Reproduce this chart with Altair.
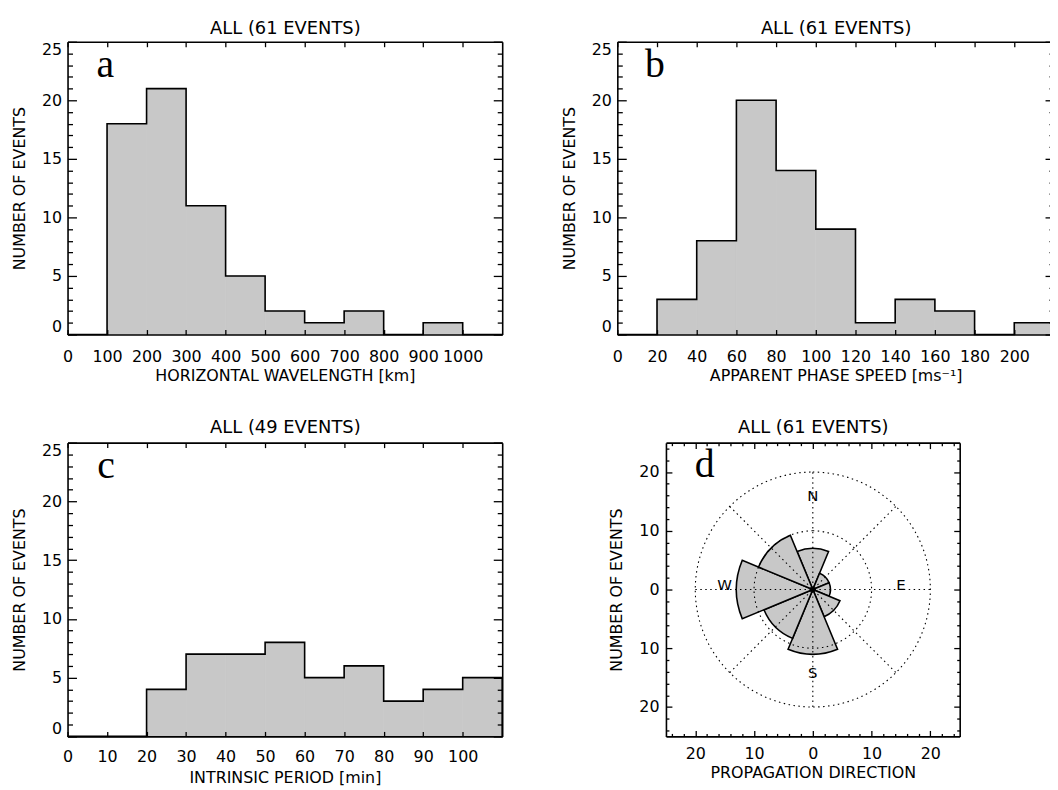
import altair as alt
import pandas as pd

# ---------------- data ----------------
WL_START = [0, 100, 200, 300, 400, 500, 600, 700, 800, 900, 1000]
WL_COUNT = [0, 18, 21, 11, 5, 2, 1, 2, 0, 1, 0]
WL_BIN = 100
WL_TICKS = [0, 100, 200, 300, 400, 500, 600, 700, 800, 900, 1000]

SP_START = [0, 20, 40, 60, 80, 100, 120, 140, 160, 180, 200]
SP_COUNT = [0, 3, 8, 20, 14, 9, 1, 3, 2, 0, 1]
SP_BIN = 20
SP_TICKS = [0, 20, 40, 60, 80, 100, 120, 140, 160, 180, 200]

PER_START = [0, 10, 20, 30, 40, 50, 60, 70, 80, 90, 100]
PER_COUNT = [0, 0, 4, 7, 7, 8, 5, 6, 3, 4, 5]
PER_BIN = 10
PER_TICKS = [0, 10, 20, 30, 40, 50, 60, 70, 80, 90, 100]

DIR_AZIMUTH = [0, 45, 90, 135, 180, 225, 270, 315]
DIR_COUNT = [7, 3, 3, 5, 11, 9, 13, 10]
DIR_HALF = 22.5

COMPASS = ["N", "E", "S", "W"]
COMPASS_X = [0, 15, 0, -15]
COMPASS_Y = [15, 0, -15, 0]
RING_R = [10, 20]
SPOKE_X1 = [-20, 0, -14.14, -14.14]
SPOKE_Y1 = [0, -20, -14.14, 14.14]
SPOKE_X2 = [20, 0, 14.14, 14.14]
SPOKE_Y2 = [0, 20, 14.14, -14.14]

COUNT_MAJOR = [0, 5, 10, 15, 20, 25]
COUNT_MINOR = [v for v in range(0, 26) if v % 5 != 0]
D_MAJOR = [-20, -10, 0, 10, 20]
D_MINOR = [v for v in range(-24, 25, 2) if v % 10 != 0]

# ---------------- layout / style ----------------
FONT = "DejaVu Sans"
GREY = "#c8c8c8"
VW, VH = 1050, 782          # whole drawing area (page minus 8px margin)


def off(orient, pos):
    """offset that places an axis of the given orient at pixel `pos`."""
    if orient == "left":
        return -pos
    if orient == "right":
        return pos - VW
    if orient == "top":
        return -pos
    return pos - VH


def tick_axis(orient, pos, values, size, domain=False):
    return alt.Axis(orient=orient, offset=off(orient, pos), values=values,
                    labels=False, ticks=True, tickSize=size, tickColor="black",
                    tickWidth=1.3, domain=domain, domainColor="black",
                    domainWidth=1.6, grid=False, title=None, zindex=1)


def xlabel_axis(pos, values, title, lpad, title_y, expr=None):
    kw = dict(orient="bottom", offset=off("bottom", pos), values=values,
              ticks=False, tickSize=0, domain=True, domainColor="black",
              domainWidth=1.6, grid=False, title=title, labelPadding=lpad,
              titleY=title_y, titleBaseline="alphabetic", labelFlush=False,
              labelOverlap=False, labelBound=False, format="d", zindex=1)
    if expr is not None:
        kw["labelExpr"] = expr
    return alt.Axis(**kw)


def ylabel_axis(pos, values, lpad, flush, expr=None):
    kw = dict(orient="left", offset=off("left", pos), values=values,
              ticks=False, tickSize=0, domain=True, domainColor="black",
              domainWidth=1.6, grid=False, title="NUMBER OF EVENTS",
              labelPadding=lpad, titlePadding=14, labelFlush=flush,
              labelOverlap=False, labelBound=False, format="d", zindex=1)
    if expr is not None:
        kw["labelExpr"] = expr
    return alt.Axis(**kw)


def title_axis(pos, text, ty):
    return alt.Axis(orient="top", offset=off("top", pos), labels=False,
                    ticks=False, domain=False, grid=False, title=text,
                    titleY=ty, titleBaseline="alphabetic", titleFontSize=18,
                    values=[0])


def ghost(xscale, yscale, xaxis, yaxis):
    df = pd.DataFrame({"gx": [0], "gy": [0]})
    return alt.Chart(df).mark_point(opacity=0).encode(
        x=alt.X("gx:Q", scale=xscale, axis=xaxis),
        y=alt.Y("gy:Q", scale=yscale, axis=yaxis),
    )


def letter_layer(xs, ys, lx, ly, t):
    df = pd.DataFrame({"lx": [lx], "ly": [ly], "t": [t]})
    return alt.Chart(df).mark_text(
        align="left", baseline="alphabetic", font="Liberation Serif",
        fontSize=40, color="black"
    ).encode(
        x=alt.X("lx:Q", scale=xs, axis=None),
        y=alt.Y("ly:Q", scale=ys, axis=None),
        text="t:N",
    )


def hist_panel(starts, counts, binw, xmax, xr, yr, xticks, xtitle, ptitle,
               letter, letter_x, lpad, title_y, ptitle_y):
    x0, x1 = xr
    ybot, ytop = yr
    xs = alt.Scale(domain=[0, xmax], range=[x0, x1], nice=False, zero=False)
    ys = alt.Scale(domain=[0, 25], range=[ybot, ytop], nice=False, zero=False)
    bars_df = pd.DataFrame({"start": starts,
                            "end": [s + binw for s in starts],
                            "count": counts,
                            "base": [0] * len(starts)})
    step_df = pd.DataFrame({"edge": starts + [starts[-1] + binw],
                            "count": counts + [0]})
    bars = alt.Chart(bars_df).mark_bar(
        color=GREY, stroke=GREY, strokeWidth=0.7
    ).encode(
        x=alt.X("start:Q", scale=xs,
                axis=xlabel_axis(ybot, xticks, xtitle, lpad, title_y)),
        x2="end:Q",
        y=alt.Y("count:Q", scale=ys, axis=ylabel_axis(x0, COUNT_MAJOR, 6, True)),
        y2="base:Q",
    )
    step = alt.Chart(step_df).mark_line(
        interpolate="step-after", color="black", strokeWidth=1.6
    ).encode(
        x=alt.X("edge:Q", scale=xs, axis=tick_axis("top", ybot, xticks, 5)),
        y=alt.Y("count:Q", scale=ys, axis=tick_axis("right", x0, COUNT_MAJOR, 9)),
    )
    g1 = ghost(xs, ys, tick_axis("bottom", ytop, xticks, 5, domain=True),
               tick_axis("left", x1, COUNT_MAJOR, 9, domain=True))
    g2 = ghost(xs, ys, title_axis(ytop, ptitle, ptitle_y),
               tick_axis("right", x0, COUNT_MINOR, 5))
    g3 = ghost(xs, ys, None, tick_axis("left", x1, COUNT_MINOR, 5))
    let = letter_layer(xs, ys, letter_x, 22, letter)
    return alt.layer(bars, step, g1, g2, g3, let).resolve_axis(
        x="independent", y="independent")


a = hist_panel(WL_START, WL_COUNT, WL_BIN, 1100, (60, 498), (326, 31), WL_TICKS,
               "HORIZONTAL WAVELENGTH [km]", "ALL (61 EVENTS)", "a", 73, 14.5, 46, -8.3)
b = hist_panel(SP_START, SP_COUNT, SP_BIN, 220, (614, 1054), (326, 31), SP_TICKS,
               "APPARENT PHASE SPEED [ms\u207b\u00b9]", "ALL (61 EVENTS)", "b", 14, 14.5, 46, -8.3)
c = hist_panel(PER_START, PER_COUNT, PER_BIN, 110, (60, 498), (731, 435), PER_TICKS,
               "INTRINSIC PERIOD [min]", "ALL (49 EVENTS)", "c", 7.5, 12, 46, -10)

# ---------------- rose panel ----------------
DX0, DX1 = 663, 959
DYB, DYT = 731, 435
dxs = alt.Scale(domain=[-25, 25], range=[DX0, DX1], nice=False, zero=False)
dys = alt.Scale(domain=[-25, 25], range=[DYB, DYT], nice=False, zero=False)
th_scale = alt.Scale(domain=[0, 360], range=[0, 6.283185307179586])
r_scale = alt.Scale(type="linear", domain=[0, 25], range=[0, (DX1 - DX0) / 2], zero=True)

sec_df = pd.DataFrame({
    "cx": [0] * len(DIR_AZIMUTH),
    "cy": [0] * len(DIR_AZIMUTH),
    "t0": [az - DIR_HALF for az in DIR_AZIMUTH],
    "t1": [az + DIR_HALF for az in DIR_AZIMUTH],
    "r": DIR_COUNT,
})
sectors = alt.Chart(sec_df).mark_arc(
    fill=GREY, stroke="black", strokeWidth=1.6
).encode(
    x=alt.X("cx:Q", scale=dxs, axis=None),
    y=alt.Y("cy:Q", scale=dys, axis=None),
    theta=alt.Theta("t0:Q", scale=th_scale, stack=False),
    theta2="t1:Q",
    radius=alt.Radius("r:Q", scale=r_scale),
)
ring_df = pd.DataFrame({"cx": [0] * len(RING_R), "cy": [0] * len(RING_R),
                        "t0": [0] * len(RING_R), "t1": [360] * len(RING_R),
                        "r": RING_R})
rings = alt.Chart(ring_df).mark_arc(
    fillOpacity=0, stroke="black", strokeWidth=1.1, strokeDash=[1.5, 3.5]
).encode(
    x=alt.X("cx:Q", scale=dxs, axis=None),
    y=alt.Y("cy:Q", scale=dys, axis=None),
    theta=alt.Theta("t0:Q", scale=th_scale, stack=False),
    theta2="t1:Q",
    radius=alt.Radius("r:Q", scale=r_scale),
)
spoke_df = pd.DataFrame({"x1": SPOKE_X1, "y1": SPOKE_Y1, "x2": SPOKE_X2, "y2": SPOKE_Y2})
spokes = alt.Chart(spoke_df).mark_rule(
    color="black", strokeWidth=1.1, strokeDash=[1.5, 3.5]
).encode(
    x=alt.X("x1:Q", scale=dxs,
            axis=xlabel_axis(DYB, D_MAJOR, "PROPAGATION DIRECTION", 9.5, 41,
                             expr="abs(datum.value)")),
    y=alt.Y("y1:Q", scale=dys,
            axis=ylabel_axis(DX0, D_MAJOR, 7, False, expr="abs(datum.value)")),
    x2="x2:Q",
    y2="y2:Q",
)
comp_df = pd.DataFrame({"cx": COMPASS_X, "cy": COMPASS_Y, "t": COMPASS})
compass = alt.Chart(comp_df).mark_text(
    align="center", baseline="alphabetic", font=FONT, fontSize=15, color="black"
).encode(
    x=alt.X("cx:Q", scale=dxs, axis=tick_axis("top", DYB, D_MAJOR, 6)),
    y=alt.Y("cy:Q", scale=dys, axis=tick_axis("right", DX0, D_MAJOR, 6)),
    text="t:N",
)
dg1 = ghost(dxs, dys, tick_axis("bottom", DYT, D_MAJOR, 6, domain=True),
            tick_axis("left", DX1, D_MAJOR, 6, domain=True))
dg2 = ghost(dxs, dys, tick_axis("top", DYB, D_MINOR, 3),
            tick_axis("right", DX0, D_MINOR, 3))
dg3 = ghost(dxs, dys, tick_axis("bottom", DYT, D_MINOR, 3),
            tick_axis("left", DX1, D_MINOR, 3))
dg4 = ghost(dxs, dys, title_axis(DYT, "ALL (61 EVENTS)", -10), None)
dlet = letter_layer(dxs, dys, -20.1, 19.1, "d")
d = alt.layer(sectors, rings, spokes, compass, dg1, dg2, dg3, dg4, dlet).resolve_axis(
    x="independent", y="independent")

chart = alt.layer(a, b, c, d).resolve_scale(
    x="independent", y="independent"
).resolve_axis(
    x="independent", y="independent"
).properties(
    width=VW, height=VH, padding=0, autosize="none"
).configure_view(stroke=None).configure_axis(
    labelFont=FONT, titleFont=FONT, labelFontSize=16, titleFontSize=16,
    labelColor="black", titleColor="black", titleFontWeight="normal",
)

chart.save("out.html", embed_options={"renderer": "svg", "actions": False})
